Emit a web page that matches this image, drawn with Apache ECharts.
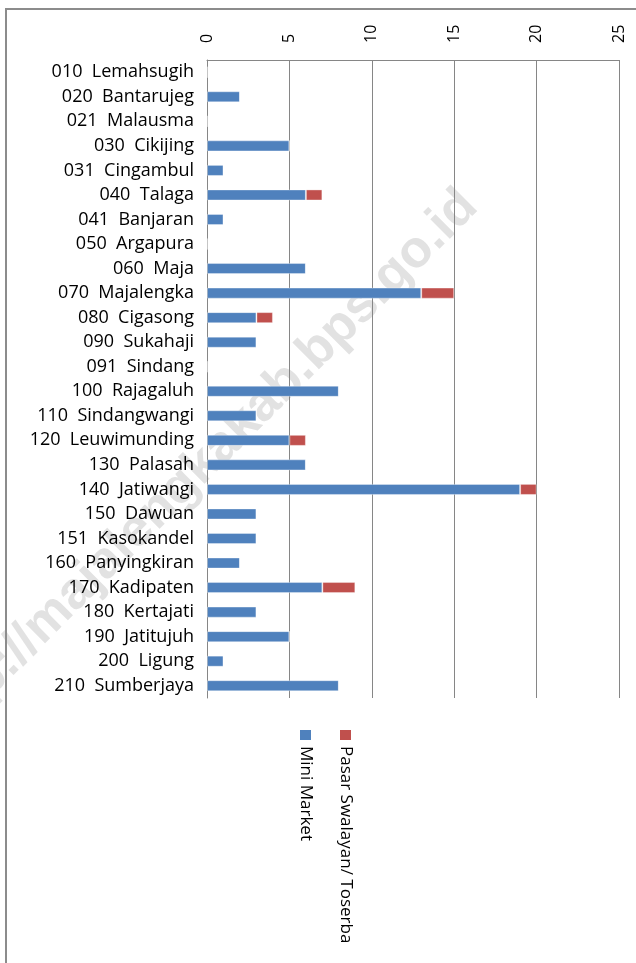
<!DOCTYPE html>
<html>
<head>
<meta charset="utf-8">
<script src="https://cdn.jsdelivr.net/npm/echarts@6/dist/echarts.min.js"></script>
<style>
    html, body {margin: 0; padding: 0; background: #fff;}
    #chart {width: 636px; height: 963px;}
</style>
</head>
<body>
<div id="chart"></div>
<script>
const kecamatan = ['010  Lemahsugih', '020  Bantarujeg', '021  Malausma', '030  Cikijing', '031  Cingambul',
    '040  Talaga', '041  Banjaran', '050  Argapura', '060  Maja', '070  Majalengka', '080  Cigasong',
    '090  Sukahaji', '091  Sindang', '100  Rajagaluh', '110  Sindangwangi', '120  Leuwimunding',
    '130  Palasah', '140  Jatiwangi', '150  Dawuan', '151  Kasokandel', '160  Panyingkiran',
    '170  Kadipaten', '180  Kertajati', '190  Jatitujuh', '200  Ligung', '210  Sumberjaya'];
const mini_market = [0, 2, 0, 5, 1, 6, 1, 0, 6, 13, 3, 3, 0, 8, 3, 5, 6, 19, 3, 3, 2, 7, 3, 5, 1, 8];
const pasar_swalayan = [0, 0, 0, 0, 0, 1, 0, 0, 0, 2, 1, 0, 0, 0, 0, 1, 0, 1, 0, 0, 0, 2, 0, 0, 0, 0];
const legend_names = ['Pasar Swalayan/ Toserba', 'Mini Market'];
const watermark = 'http://majalengkakab.bps.go.id';

const font = '"Open Sans", sans-serif';
const blue = '#4f81bd';
const red = '#c0504d';
const axis_gray = '#868686';

const chart = echarts.init(document.getElementById('chart'));

// legend is turned sideways like the rest of the chart, so draw it by hand
const legend_item = (x, color, name) => [
    {type: 'rect', shape: {x: x - 5, y: 730, width: 11, height: 10}, style: {fill: color}},
    {
        type: 'text', x: x + 1, y: 746, rotation: -Math.PI / 2,
        style: {text: name, font: '17px ' + font, fill: '#000', align: 'left', verticalAlign: 'middle'}
    }
];

chart.setOption({
    animation: false,
    grid: {left: 207, right: 17, top: 60, bottom: 265},
    xAxis: {
        type: 'value',
        position: 'top',
        min: 0, max: 25, interval: 5,
        axisLine: {show: true, lineStyle: {color: axis_gray}},
        axisTick: {show: false},
        splitLine: {lineStyle: {color: axis_gray}},
        axisLabel: {rotate: -90, margin: 17, color: '#000', fontSize: 16, fontFamily: font}
    },
    yAxis: {
        type: 'category',
        inverse: true,
        data: kecamatan,
        axisLine: {lineStyle: {color: axis_gray}},
        axisTick: {length: 6, lineStyle: {color: axis_gray}},
        axisLabel: {interval: 0, margin: 13, color: '#000', fontSize: 18, fontFamily: font}
    },
    series: [
        {
            name: legend_names[1], type: 'bar', stack: 'total', barWidth: '45%',
            data: mini_market,
            itemStyle: {color: blue, borderColor: 'rgba(255,255,255,0.35)', borderWidth: 1}
        },
        {
            name: legend_names[0], type: 'bar', stack: 'total', barWidth: '45%',
            data: pasar_swalayan,
            itemStyle: {color: red, borderColor: 'rgba(255,255,255,0.35)', borderWidth: 1}
        }
    ],
    graphic: [
        {
            type: 'text', z: -10, x: 200, y: 468, rotation: Math.PI / 4,
            style: {
                text: watermark, font: 'bold 52px "Liberation Sans", sans-serif',
                fill: '#e2e2e2', align: 'center', verticalAlign: 'middle'
            }
        },
        {
            type: 'rect', z: 10,
            shape: {x: 6, y: 9, width: 700, height: 1000},
            style: {fill: null, stroke: '#8c8c8c', lineWidth: 2}
        },
        ...legend_item(345, red, legend_names[0]),
        ...legend_item(305, blue, legend_names[1])
    ]
});
</script>
</body>
</html>
